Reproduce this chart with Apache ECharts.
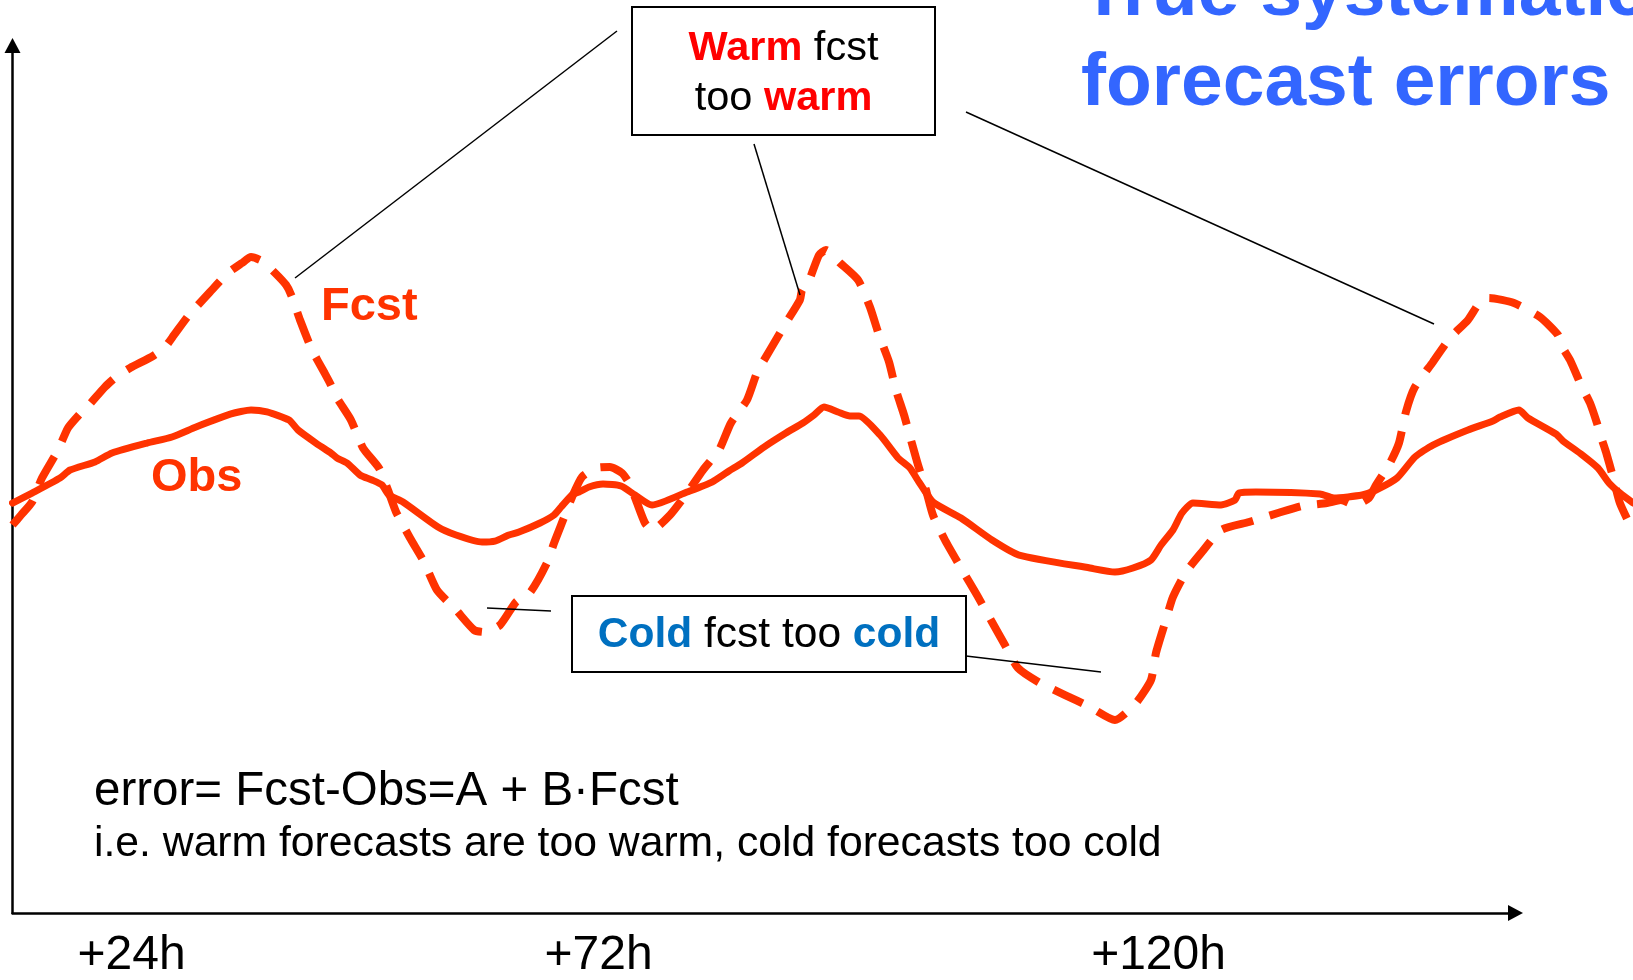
<!DOCTYPE html>
<html>
<head>
<meta charset="utf-8">
<title>True systematic forecast errors</title>
<script src="https://cdn.jsdelivr.net/npm/echarts@6/dist/echarts.min.js"></script>
<style>
  html, body { margin: 0; padding: 0; background: #fff; }
  #chart { width: 1633px; height: 980px; }
</style>
</head>
<body>
<div id="chart"></div>
<script>
// Schematic time axis: 0 at the vertical axis, 100 at the arrow head.
// Temperature axis: 0 at the time axis, 100 at the arrow head.

// Observed temperature (solid line)
const obsT = [0.00, 1.30, 3.16, 3.83, 5.49, 6.62, 8.95, 10.61, 12.21, 14.54, 15.87, 16.93, 18.40, 19.00,
  20.19, 21.19, 21.59, 22.26, 23.12, 23.92, 24.58, 25.05, 25.98, 28.31, 29.51, 31.24, 32.10, 33.03, 33.70,
  35.10, 36.03, 36.50, 37.23, 37.69, 38.36, 39.29, 40.49, 41.42, 42.55, 44.88, 46.54, 47.67, 48.54, 50.00,
  51.46, 52.59, 53.33, 53.99, 54.92, 55.72, 56.32, 57.72, 58.92, 59.71, 60.31, 61.24, 63.11, 65.17, 66.97,
  71.69, 73.35, 74.55, 75.75, 76.42, 77.21, 77.81, 78.54, 80.41, 81.34, 81.60, 82.73, 86.99, 87.92, 89.79,
  90.72, 92.12, 93.31, 94.51, 96.84, 98.50, 98.97, 100.23, 100.83, 102.69, 103.16, 104.36, 105.49, 106.22,
  106.95, 107.82];
const obsV = [47.29, 48.44, 50.17, 51.09, 52.02, 53.05, 54.20, 54.90, 56.05, 57.55, 58.01, 57.78, 56.85, 55.70,
  54.20, 53.05, 52.48, 51.90, 50.52, 49.94, 49.37, 48.21, 47.41, 44.53, 43.61, 42.80, 42.91, 43.61, 43.95,
  44.99, 45.91, 46.83, 48.21, 48.56, 49.14, 49.48, 49.25, 48.21, 47.06, 48.56, 49.71, 50.98, 51.90, 53.74,
  55.36, 56.51, 57.43, 58.35, 57.78, 57.32, 57.32, 55.13, 52.48, 51.32, 49.71, 47.41, 45.56, 43.03, 41.30,
  39.80, 39.34, 39.80, 40.73, 42.45, 44.18, 46.14, 47.29, 47.06, 47.64, 48.44, 48.56, 48.33, 47.87, 48.21,
  48.79, 50.17, 52.59, 53.97, 55.70, 56.74, 57.20, 58.01, 57.09, 55.24, 54.44, 52.94, 51.32, 49.60,
  48.44, 47.30];

// Forecast temperature (dashed line)
const fcstT = [0.00, 0.57, 1.30, 1.96, 3.03, 3.69, 4.42, 5.09, 6.15, 6.89, 7.82, 9.35, 10.15, 10.75, 11.74,
  13.14, 14.34, 15.27, 15.87, 16.60, 17.47, 18.20, 18.54, 19.13, 19.93, 20.73, 21.12, 21.59, 22.52, 23.32,
  24.38, 24.98, 25.52, 26.45, 27.38, 28.24, 29.51, 30.71, 31.37, 32.44, 33.50, 34.46, 35.56, 36.03, 36.63,
  37.23, 37.89, 38.82, 39.75, 40.55, 41.02, 41.48, 42.08, 42.55, 43.75, 44.88, 45.94, 47.01, 47.80, 48.87,
  49.53, 50.40, 51.46, 52.39, 52.53, 52.93, 53.66, 54.12, 55.06, 56.26, 57.05, 57.65, 58.32, 58.78, 59.32,
  59.78, 60.25, 60.78, 61.24, 62.04, 63.11, 64.17, 65.17, 66.03, 66.90, 68.36, 70.03, 71.69, 73.35, 74.75,
  75.75, 76.08, 76.68, 77.21, 78.08, 79.14, 80.41, 82.27, 84.20, 85.80, 87.46, 88.39, 89.32, 90.25, 90.65,
  91.65, 92.25, 92.71, 93.31, 94.51, 95.64, 96.84, 97.64, 98.24, 99.90, 101.63, 102.83, 103.03, 103.63,
  104.36, 104.96, 105.42, 105.76, 106.02, 106.49, 106.95, 107.82];
const fcstV = [44.76, 45.91, 47.41, 50.17, 53.40, 55.93, 57.43, 58.58, 60.66, 61.81, 62.85, 64.23, 65.26, 66.65, 68.95,
  71.60, 73.79, 74.94, 75.63, 75.17, 73.79, 72.41, 71.26, 68.38, 64.92, 62.38, 61.12, 59.39, 56.85, 53.63,
  51.32, 48.79, 46.26, 43.26, 40.50, 37.27, 34.97, 32.66, 32.43, 33.24, 35.89, 37.04, 40.38, 42.68, 45.33,
  47.98, 50.29, 51.32, 51.44, 50.75, 49.60, 47.64, 44.99, 44.18, 45.91, 48.44, 51.09, 53.40, 56.51, 59.16,
  62.27, 64.92, 68.03, 70.68, 71.83, 72.64, 75.86, 76.44, 74.94, 72.98, 69.87, 66.65, 63.54, 60.31, 57.43,
  54.55, 51.67, 48.79, 45.91, 43.03, 39.80, 36.69, 33.58, 30.93, 28.28, 26.56, 25.17, 23.79, 22.29, 24.25,
  26.90, 30.01, 33.47, 36.46, 39.34, 41.65, 44.18, 45.10, 46.14, 46.95, 47.29, 47.64, 47.06, 47.87, 49.14,
  51.90, 54.20, 57.78, 60.66, 63.54, 66.30, 68.38, 70.45, 70.91, 70.33, 68.72, 66.65, 65.50, 63.77,
  60.89, 58.81, 56.51, 54.55, 53.17, 50.29, 47.29, 44.07];

// Lead-time labels under the time axis, and where they sit on it
const tickLabels = ['+24h', '+72h', '+120h'];
const tickPos = [7.92, 38.99, 76.25];

const FONT = '"Liberation Sans", Arial, Helvetica, sans-serif';
const LINE_RED = '#FF3300';

const zip = (xs, ys) => xs.map((x, i) => [x, ys[i]]);

const chart = echarts.init(document.getElementById('chart'), null, { renderer: 'canvas' });

chart.setOption({
  animation: false,
  backgroundColor: '#ffffff',
  grid: [
    // curves: run past the arrow head to the right edge
    { left: 12.5, right: 0, top: 45.5, bottom: 66.5 },
    // axis frame with arrow heads
    { left: 12.5, right: 117.5, top: 45.5, bottom: 66.5 }
  ],
  xAxis: [
    { gridIndex: 0, type: 'value', min: 0, max: 107.82, show: false },
    {
      gridIndex: 1, type: 'value', min: 0, max: 100,
      axisLine: {
        show: true, symbol: ['none', 'triangle'], symbolSize: [16, 15],
        lineStyle: { color: '#000', width: 2.5 }
      },
      axisTick: { show: false },
      splitLine: { show: false },
      axisLabel: {
        show: true,
        customValues: tickPos,
        formatter: (v) => {
          const i = tickPos.findIndex(p => Math.abs(p - v) < 1e-6);
          return i >= 0 ? tickLabels[i] : '';
        },
        color: '#000',
        fontFamily: FONT,
        fontSize: 48,
        margin: 19
      }
    }
  ],
  yAxis: [
    { gridIndex: 0, type: 'value', min: 0, max: 100, show: false },
    {
      gridIndex: 1, type: 'value', min: 0, max: 100,
      axisLine: {
        show: true, symbol: ['none', 'triangle'], symbolSize: [16, 15],
        lineStyle: { color: '#000', width: 2.5 }
      },
      axisTick: { show: false },
      splitLine: { show: false },
      axisLabel: { show: false }
    }
  ],
  series: [
    {
      name: 'Obs',
      type: 'line',
      xAxisIndex: 0, yAxisIndex: 0,
      data: zip(obsT, obsV),
      symbol: 'none',
      smooth: 0.2,
      clip: false,
      lineStyle: { color: LINE_RED, width: 7, cap: 'round', join: 'round' },
      z: 3
    },
    {
      name: 'Fcst',
      type: 'line',
      xAxisIndex: 0, yAxisIndex: 0,
      data: zip(fcstT, fcstV),
      symbol: 'none',
      smooth: 0.2,
      clip: false,
      lineStyle: { color: LINE_RED, width: 8, type: [32, 17], cap: 'butt', join: 'round' },
      z: 3
    }
  ],
  graphic: [
    // heading, running off the top and right edges
    {
      type: 'text', left: 1081, top: -51, z: 10,
      style: {
        text: 'True systematic\nforecast errors',
        font: 'bold 75px ' + FONT,
        fill: '#3366FF',
        lineHeight: 90
      }
    },
    // leader lines
    { type: 'line', z: 9, shape: { x1: 617, y1: 31, x2: 295, y2: 278 }, style: { stroke: '#000', lineWidth: 1.5 } },
    { type: 'line', z: 9, shape: { x1: 754, y1: 144, x2: 800, y2: 295 }, style: { stroke: '#000', lineWidth: 1.5 } },
    { type: 'line', z: 9, shape: { x1: 966, y1: 112, x2: 1434, y2: 324 }, style: { stroke: '#000', lineWidth: 1.5 } },
    { type: 'line', z: 9, shape: { x1: 487, y1: 608, x2: 551, y2: 611 }, style: { stroke: '#000', lineWidth: 1.5 } },
    { type: 'line', z: 9, shape: { x1: 966, y1: 656, x2: 1101, y2: 672 }, style: { stroke: '#000', lineWidth: 1.5 } },
    // "Warm fcst too warm" callout
    {
      type: 'rect', z: 10,
      shape: { x: 632, y: 7, width: 303, height: 128 },
      style: { fill: '#fff', stroke: '#000', lineWidth: 2 }
    },
    {
      type: 'text', z: 11, x: 783.5, y: 73.5,
      style: {
        text: '{r|Warm} fcst\ntoo {r|warm}',
        fontFamily: FONT, fontSize: 41.5, fill: '#000',
        align: 'center', verticalAlign: 'middle', lineHeight: 50,
        rich: { r: { fontFamily: FONT, fontSize: 41.5, fontWeight: 'bold', fill: '#FF0000', lineHeight: 50 } }
      }
    },
    // "Cold fcst too cold" callout
    {
      type: 'rect', z: 10,
      shape: { x: 572, y: 596, width: 394, height: 76 },
      style: { fill: '#fff', stroke: '#000', lineWidth: 2 }
    },
    {
      type: 'text', z: 11, x: 769, y: 635.5,
      style: {
        text: '{b|Cold} fcst too {b|cold}',
        fontFamily: FONT, fontSize: 42.5, fill: '#000',
        align: 'center', verticalAlign: 'middle',
        rich: { b: { fontFamily: FONT, fontSize: 42.5, fontWeight: 'bold', fill: '#0070C0' } }
      }
    },
    // series names next to the curves
    {
      type: 'text', z: 11, x: 321, y: 307.5,
      style: { text: 'Fcst', font: 'bold 47px ' + FONT, fill: LINE_RED, verticalAlign: 'middle' }
    },
    {
      type: 'text', z: 11, x: 151, y: 478,
      style: { text: 'Obs', font: 'bold 47px ' + FONT, fill: LINE_RED, verticalAlign: 'middle' }
    },
    // error model
    {
      type: 'text', z: 11, x: 94, y: 792,
      style: { text: 'error= Fcst-Obs=A + B\u00B7Fcst', font: '47.5px ' + FONT, fill: '#000', verticalAlign: 'middle' }
    },
    {
      type: 'text', z: 11, x: 94, y: 844.5,
      style: { text: 'i.e. warm forecasts are too warm, cold forecasts too cold', font: '42.7px ' + FONT, fill: '#000', verticalAlign: 'middle' }
    }
  ]
});
</script>
</body>
</html>
